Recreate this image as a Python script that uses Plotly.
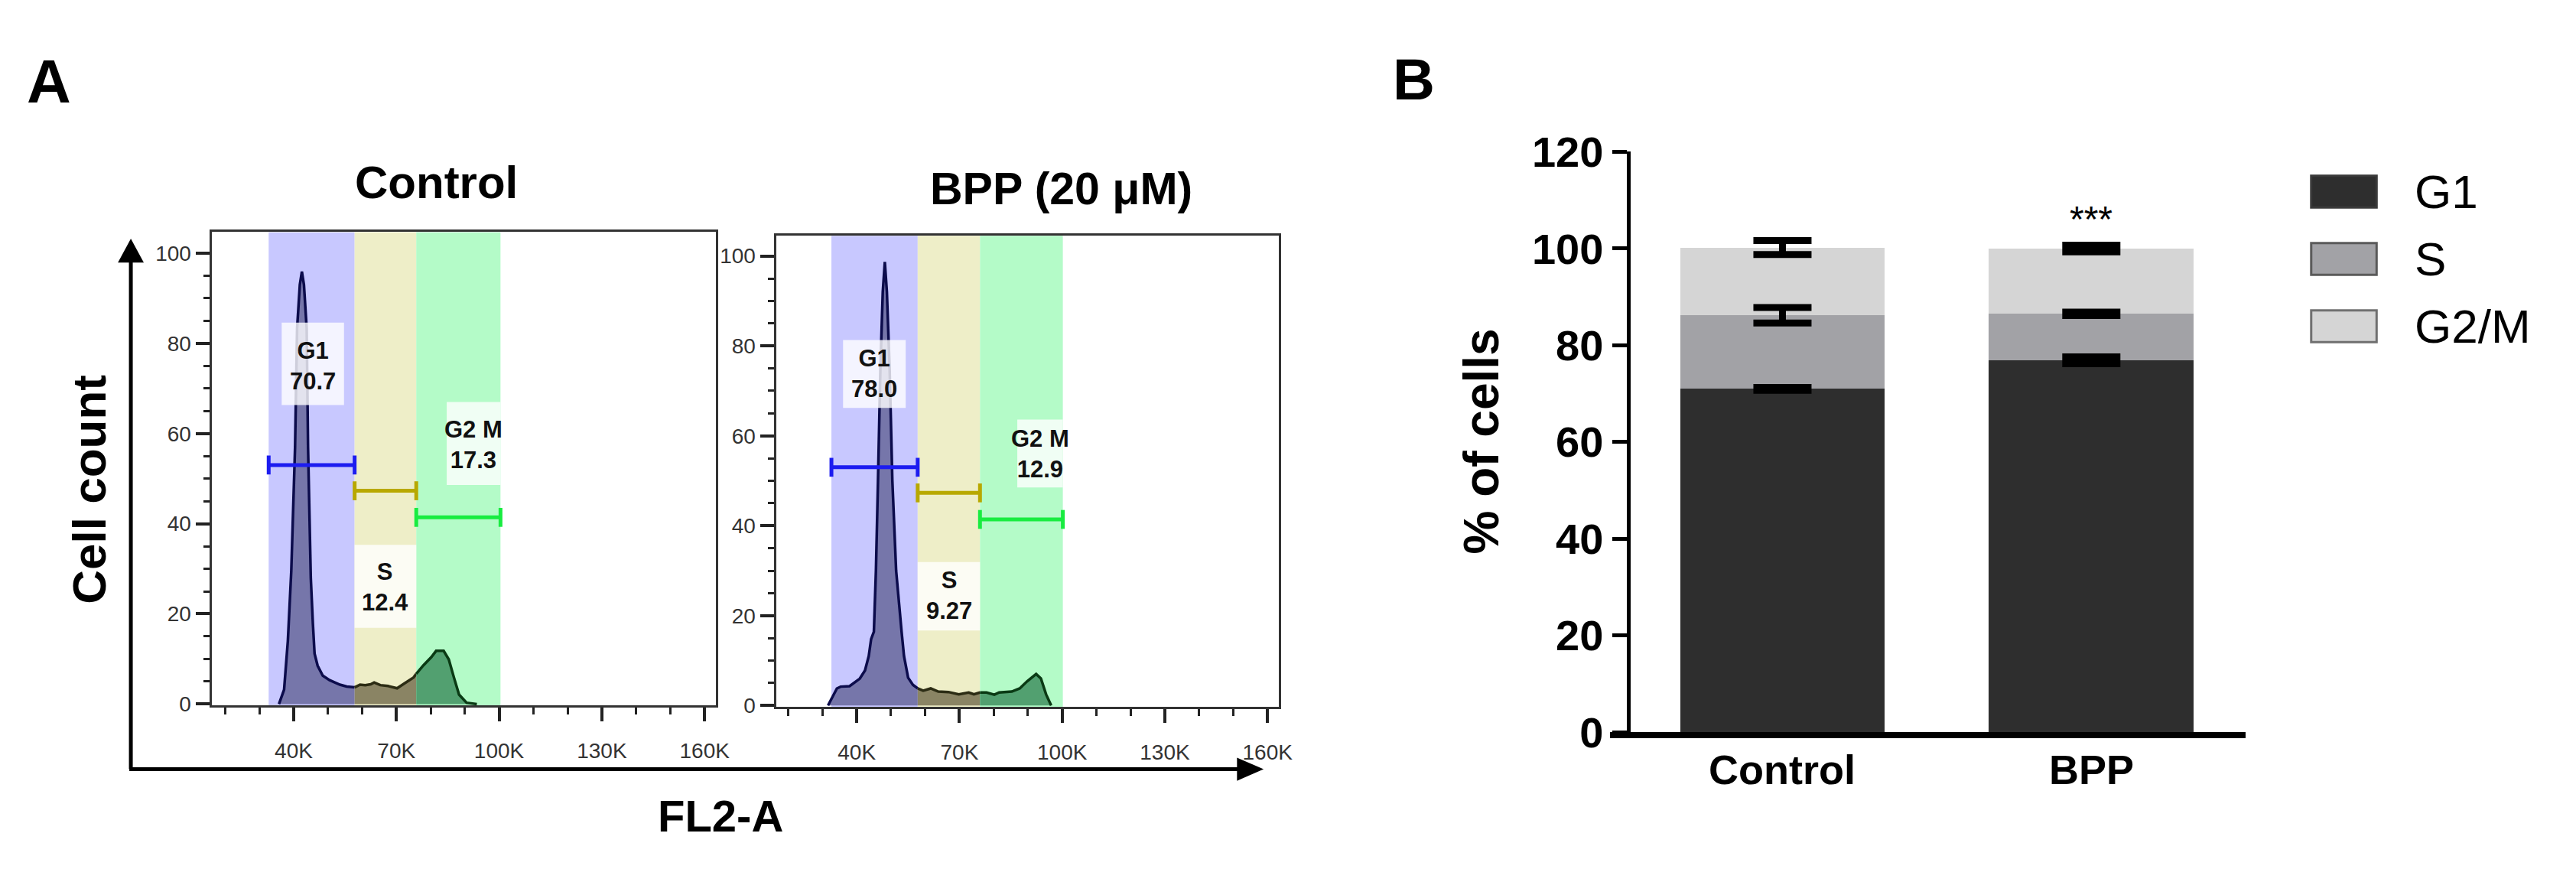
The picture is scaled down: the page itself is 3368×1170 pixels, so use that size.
import plotly.graph_objects as go

W, H = 3368, 1170
FONT = "Liberation Sans, Arial, sans-serif"

# ---------------- data ----------------
# Panel A: DNA-content histograms (FL2-A in thousands, cell count)
control_x = [35.7, 37.2, 38.3, 39.3, 40.4, 41.0, 41.8, 42.4, 43.0, 43.8, 44.2, 45.0, 45.6, 46.1,
             47.0, 47.6, 48.5, 50.5, 53.5, 55.5, 57.8, 59.4, 60.9, 62.5, 63.5, 65.3, 67.6, 70.2,
             72.4, 75.0, 75.8, 77.9, 80.2, 81.6, 83.8, 85.3, 86.8, 88.3, 90.5, 93.5]
control_y = [0.0, 3.2, 14.0, 29.5, 56.9, 83.3, 93.0, 95.9, 93.0, 83.3, 56.9, 28.0, 18.0, 11.2,
             8.5, 7.5, 6.3, 5.3, 4.3, 3.9, 3.7, 4.3, 4.2, 4.4, 4.8, 4.2, 4.0, 3.5,
             4.6, 5.9, 6.7, 8.6, 10.4, 11.8, 11.8, 9.9, 5.9, 2.1, 0.3, 0.0]
bpp_x = [31.6, 34.2, 35.3, 37.9, 40.9, 42.4, 43.5, 44.2, 45.0, 45.6, 46.2, 46.9, 47.6, 48.2,
         48.8, 49.6, 50.4, 51.5, 53.1, 53.8, 55.0, 56.4, 57.8, 59.4, 61.6, 63.8, 66.8, 69.8,
         72.7, 74.2, 76.0, 77.9, 80.2, 81.6, 85.3, 87.6, 89.8, 92.4, 93.8, 95.3, 96.8]
bpp_y = [0.0, 3.8, 4.2, 4.3, 6.0, 7.8, 11.0, 14.8, 16.4, 30.0, 50.0, 75.0, 92.0, 98.7,
         92.0, 75.0, 50.0, 30.0, 16.4, 11.0, 6.2, 4.6, 3.8, 3.3, 3.8, 3.1, 3.0, 2.5,
         2.9, 2.5, 2.9, 2.9, 2.4, 2.9, 3.1, 3.8, 5.4, 7.0, 6.0, 2.5, 0.0]
# gate edges (FL2-A, thousands): G1 start, G1/S, S/G2M, G2M end
control_gates = [32.7, 57.8, 75.8, 100.4]
bpp_gates = [32.6, 57.8, 76.0, 100.2]
phase_names = ["G1", "S", "G2 M"]
control_pct = ["70.7", "12.4", "17.3"]
bpp_pct = ["78.0", "9.27", "12.9"]

# Panel B: % of cells per phase
groups = ["Control", "BPP"]
phases = ["G1", "S", "G2/M"]
pct_g1 = [71.0, 76.9]
pct_s = [15.2, 9.6]
pct_g2m = [14.0, 13.5]
err_g1 = [0.3, 0.7]
err_s = [1.6, 0.35]
err_g2m = [1.45, 0.7]


def px(x):
    return x / W


def py(y):
    return 1 - y / H


fig = go.Figure()
shapes = []
annotations = []

band_colors = ["#c8c8ff", "#eeeec8", "#b4fbc8"]
fill_colors = ["#7676aa", "#8a8464", "#52a070"]
line_colors = ["#0c0c4c", "#2c2c14", "#0a3a14"]
gate_colors = ["#1c1cf0", "#b8a800", "#18ec40"]
gate_levels = [53.0, 47.3, 41.4]

hists = [
    ("x", "y", control_x, control_y, control_gates, control_pct,
     [(45.6, 75.0, 36.5, 54.7, 66.3, 84.6), (66.8, 26.0, 57.8, 75.8, 16.9, 35.3),
      (92.5, 57.5, 84.7, 100.4, 48.6, 67.0)]),
    ("x2", "y2", bpp_x, bpp_y, bpp_gates, bpp_pct,
     [(45.2, 73.8, 36.0, 54.3, 66.2, 81.3), (66.9, 24.4, 57.8, 76.0, 16.7, 31.9),
      (93.5, 56.0, 86.9, 100.2, 48.5, 63.6)]),
]

for xr, yr, hx, hy, gates, pcts, boxes in hists:
    # coloured gate bands
    for i in range(3):
        shapes.append(dict(type="rect", xref=xr, yref=yr + " domain", x0=gates[i], x1=gates[i + 1],
                           y0=0, y1=1, fillcolor=band_colors[i], line=dict(width=0), layer="below"))
    # histogram split by phase region
    for i in range(3):
        if i == 0:
            keep = [a <= gates[1] for a in hx]
        elif i == 1:
            keep = [gates[1] <= a <= gates[2] for a in hx]
        else:
            keep = [a >= gates[2] for a in hx]
        sx = [a for a, k in zip(hx, keep) if k]
        sy = [b for b, k in zip(hy, keep) if k]
        fig.add_trace(go.Scatter(x=sx, y=sy, xaxis=xr, yaxis=yr, mode="lines", fill="tozeroy",
                                 fillcolor=fill_colors[i], line=dict(color=line_colors[i], width=3.5),
                                 hoverinfo="skip", showlegend=False))
    # gate markers
    for i in range(3):
        lv = gate_levels[i]
        a, b = gates[i], gates[i + 1]
        fig.add_trace(go.Scatter(x=[a, b, None, a, a, None, b, b],
                                 y=[lv, lv, None, lv - 2.1, lv + 2.1, None, lv - 2.1, lv + 2.1],
                                 xaxis=xr, yaxis=yr, mode="lines",
                                 line=dict(color=gate_colors[i], width=5),
                                 hoverinfo="skip", showlegend=False))
    # label boxes + text
    for i, (tx, ty, bx0, bx1, by0, by1) in enumerate(boxes):
        shapes.append(dict(type="rect", xref=xr, yref=yr, x0=bx0, x1=bx1, y0=by0, y1=by1,
                           fillcolor="rgba(255,255,255,0.8)", line=dict(width=0), layer="above"))
        annotations.append(dict(xref=xr, yref=yr, x=tx, y=ty, showarrow=False,
                                text="<b>%s</b><br><b>%s</b>" % (phase_names[i], pcts[i]),
                                font=dict(family=FONT, size=31, color="#111"),
                                xanchor="center", yanchor="middle"))

# ---------------- Panel B bars ----------------
xpos = list(range(len(groups)))
bar_colors = ["#2e2e2e", "#a2a2a6", "#d5d5d5"]
for name, vals, col in zip(phases, [pct_g1, pct_s, pct_g2m], bar_colors):
    fig.add_trace(go.Bar(x=xpos, y=vals, name=name, marker=dict(color=col, line=dict(width=0)),
                         width=0.663, xaxis="x3", yaxis="y3", showlegend=False))
cum = [0.0 for _ in groups]
for vals, errs in zip([pct_g1, pct_s, pct_g2m], [err_g1, err_s, err_g2m]):
    cum = [c + v for c, v in zip(cum, vals)]
    fig.add_trace(go.Scatter(x=xpos, y=cum, mode="markers", xaxis="x3", yaxis="y3",
                             marker=dict(color="rgba(0,0,0,0)", size=1),
                             error_y=dict(type="data", array=errs, color="black", thickness=9, width=38),
                             hoverinfo="skip", showlegend=False))

for i, g in enumerate(groups):
    annotations.append(dict(xref="x3", yref="paper", x=xpos[i], y=py(1031), text="<b>%s</b>" % g,
                            showarrow=False, font=dict(family=FONT, size=54, color="black"),
                            xanchor="center", yanchor="middle"))
annotations.append(dict(xref="x3", yref="y3", x=xpos[1], y=106, text="***", showarrow=False,
                        font=dict(family=FONT, size=48, color="black"), xanchor="center", yanchor="middle"))

# legend (manual)
leg_y = [232, 325, 418]
leg_border = ["#3a3a3a", "#5a5a5a", "#707070"]
for i, name in enumerate(phases):
    shapes.append(dict(type="rect", xref="paper", yref="paper", x0=px(3038), x1=px(3124),
                       y0=py(leg_y[i] + 22), y1=py(leg_y[i] - 22), fillcolor=bar_colors[i],
                       line=dict(color=leg_border[i], width=3)))
    annotations.append(dict(xref="paper", yref="paper", x=px(3172), y=py(leg_y[i]), text=name,
                            showarrow=False, font=dict(family=FONT, size=62, color="black"),
                            xanchor="left", yanchor="middle"))

# ---------------- Panel A decorations ----------------
shapes.append(dict(type="line", xref="paper", yref="paper", x0=px(172), x1=px(172), y0=py(1030),
                   y1=py(325), line=dict(color="black", width=5)))
shapes.append(dict(type="path", xref="paper", yref="paper",
                   path="M %f %f L %f %f L %f %f Z" % (px(155), py(330), px(172), py(297), px(189), py(330)),
                   fillcolor="black", line=dict(width=0)))
shapes.append(dict(type="line", xref="paper", yref="paper", x0=px(170), x1=px(1630), y0=py(1030),
                   y1=py(1030), line=dict(color="black", width=5)))
shapes.append(dict(type="path", xref="paper", yref="paper",
                   path="M %f %f L %f %f L %f %f Z" % (px(1626), py(1014), px(1661), py(1030), px(1626), py(1046)),
                   fillcolor="black", line=dict(width=0)))

texts = [
    ("<b>A</b>", 64, 80, 80, 0),
    ("<b>B</b>", 1858, 77, 76, 0),
    ("<b>Control</b>", 574, 219, 60, 0),
    ("<b>BPP (20 μM)</b>", 1395, 228, 59, 0),
    ("<b>FL2-A</b>", 947, 1094, 58, 0),
    ("<b>Cell count</b>", 117, 643, 62, -90),
    ("<b>% of cells</b>", 1947, 577, 64, -90),
]
for t, x, y, s, ang in texts:
    annotations.append(dict(xref="paper", yref="paper", x=px(x), y=py(y), text=t, showarrow=False,
                            textangle=ang, font=dict(family=FONT, size=s, color="black"),
                            xanchor="center", yanchor="middle"))

hist_x = dict(showline=True, mirror=True, linecolor="#333", linewidth=3, ticks="outside", ticklen=18,
              tickwidth=4, tickcolor="#222", tick0=40, dtick=30, ticksuffix="K", ticklabelstandoff=14,
              tickfont=dict(family=FONT, size=28, color="#333"), showgrid=False, zeroline=False,
              minor=dict(ticks="outside", tick0=40, dtick=10, ticklen=9, tickwidth=3, tickcolor="#222",
                         showgrid=False))
hist_y = dict(showline=True, mirror=True, linecolor="#333", linewidth=3, ticks="outside", ticklen=18,
              tickwidth=4, tickcolor="#222", tick0=0, dtick=20,
              tickfont=dict(family=FONT, size=28, color="#333"), showgrid=False, zeroline=False,
              minor=dict(ticks="outside", tick0=0, dtick=5, ticklen=8, tickwidth=3, tickcolor="#222",
                         showgrid=False))

fig.update_layout(
    width=W, height=H, autosize=False, margin=dict(l=0, r=0, t=0, b=0),
    paper_bgcolor="white", plot_bgcolor="white", barmode="stack", showlegend=False,
    font=dict(family=FONT),
    xaxis=dict(domain=[px(278), px(941)], range=[16.0, 163.3], anchor="y", **hist_x),
    yaxis=dict(domain=[py(942), py(288)], range=[-0.32, 104.65], anchor="x", **hist_y),
    xaxis2=dict(domain=[px(1020), px(1681)], range=[16.4, 163.3], anchor="y2", **hist_x),
    yaxis2=dict(domain=[py(944), py(293)], range=[-0.32, 104.5], anchor="x2", **hist_y),
    xaxis3=dict(domain=[px(2116), px(2952)], range=[-0.5591, 1.5], anchor="y3", showline=True,
                linewidth=8, linecolor="black", showticklabels=False, ticks="", showgrid=False,
                zeroline=False),
    yaxis3=dict(domain=[py(979), py(177)], range=[0, 120], anchor="free", position=px(2140),
                showline=True, linewidth=5, linecolor="black", ticks="outside", ticklen=19, tickwidth=5,
                tickcolor="black", tick0=0, dtick=20, showgrid=False, zeroline=False,
                tickfont=dict(family=FONT, size=56, color="black", weight="bold")),
    shapes=shapes, annotations=annotations,
)

fig.write_html("out.html")
